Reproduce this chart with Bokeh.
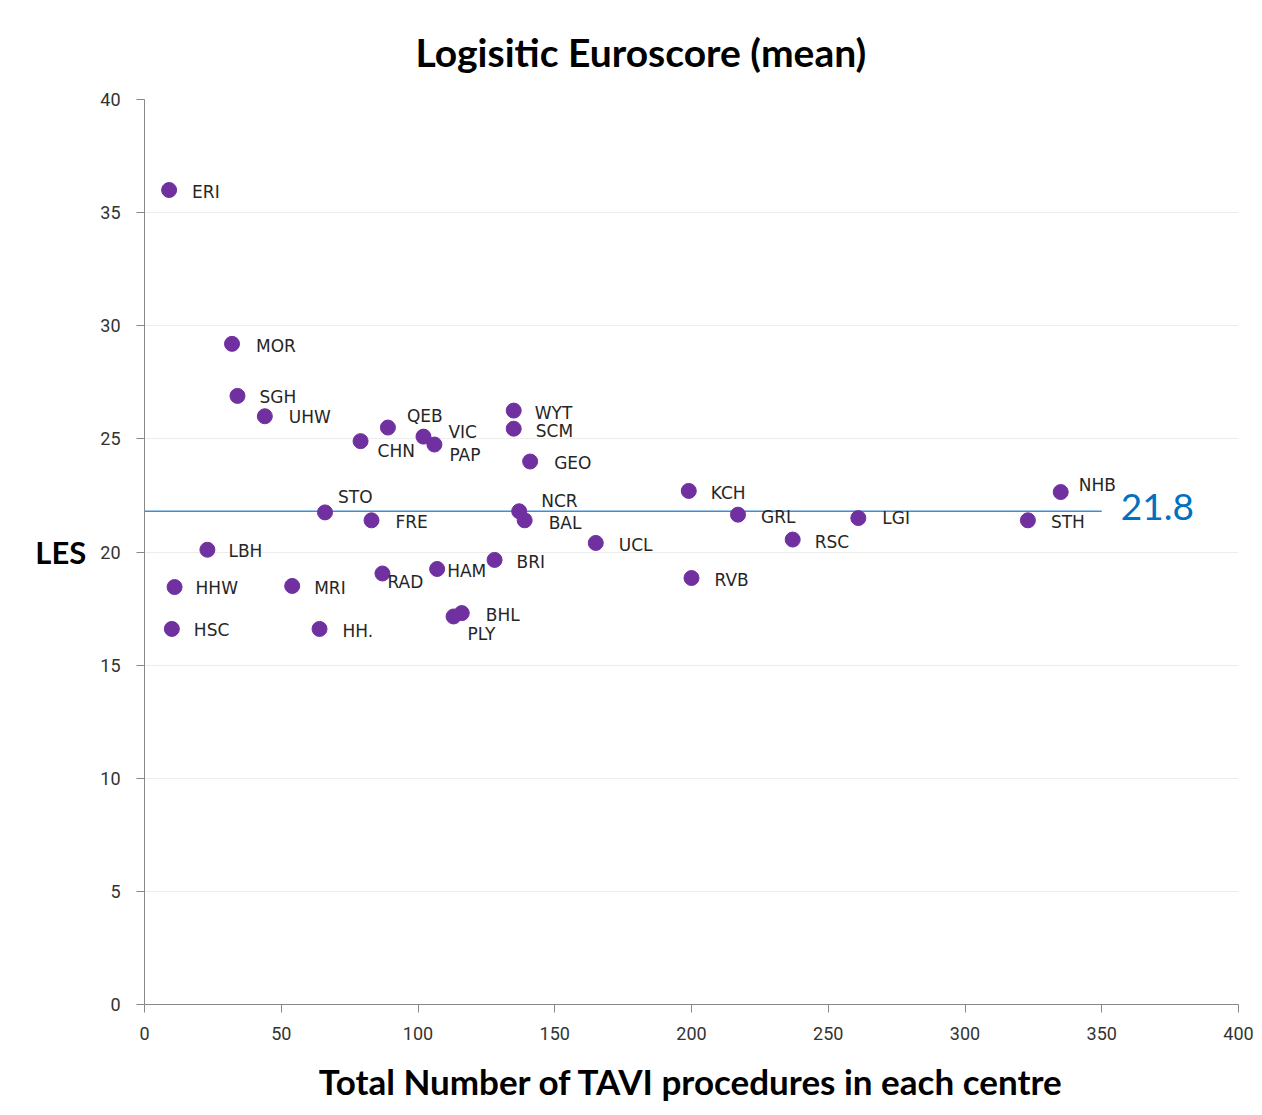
from bokeh.plotting import figure
from bokeh.models import ColumnDataSource, Range1d, FixedTicker, Title
from bokeh.core.properties import value
from bokeh.embed import file_html
from bokeh.resources import INLINE

# ---- data ----
title_text = "Logisitic Euroscore (mean)"
centres = ["ERI", "MOR", "SGH", "UHW", "CHN", "QEB", "VIC", "PAP", "WYT", "SCM", "GEO",
           "STO", "FRE", "NCR", "BAL", "UCL", "KCH", "GRL", "LGI", "RSC", "NHB", "STH",
           "RVB", "BRI", "HAM", "RAD", "BHL", "PLY", "LBH", "HHW", "MRI", "HSC", "HH."]
procedures = [9, 32, 34, 44, 79, 89, 102, 106, 135, 135, 141,
              66, 83, 137, 139, 165, 199, 217, 261, 237, 335, 323,
              200, 128, 107, 87, 116, 113, 23, 11, 54, 10, 64]
les = [36.0, 29.2, 26.9, 26.0, 24.9, 25.5, 25.1, 24.75, 26.25, 25.45, 24.0,
       21.75, 21.4, 21.8, 21.4, 20.4, 22.7, 21.65, 21.5, 20.55, 22.65, 21.4,
       18.85, 19.65, 19.25, 19.05, 17.3, 17.15, 20.1, 18.45, 18.5, 16.6, 16.6]
mean_les = 21.8
mean_line_x = [0, 350]
x_ticks = [0, 50, 100, 150, 200, 250, 300, 350, 400]
y_ticks = [0, 5, 10, 15, 20, 25, 30, 35, 40]

# label placement (pixel offsets from each point)
label_dx = [23, 24, 22, 24, 17, 19, 25, 15, 21, 22, 24,
            13, 24, 22, 24, 23, 22, 23, 24, 22, 18, 23,
            23, 22, 10, 5, 24, 14, 21, 21, 22, 22, 23]
label_dy = [2, 2, 1, 1, 10, -12, -5, 10, 2, 2, 1,
            -15, 2, -10, 3, 2, 2, 2, 0, 2, -7, 2,
            2, 2, 2, 9, 2, 18, 1, 1, 2, 1, 2]

src = ColumnDataSource(dict(x=procedures, y=les, name=centres, dx=label_dx, dy=label_dy))

p = figure(width=1254, height=1108, output_backend="svg", toolbar_location=None,
           x_range=Range1d(0, 400), y_range=Range1d(0, 40),
           min_border_left=144, min_border_top=99, min_border_bottom=104, min_border_right=16)
p.outline_line_color = None
p.background_fill_color = "white"
p.border_fill_color = "white"

p.title = Title(text=title_text, align="left", offset=271, vertical_align="top",
                text_font="Lato", text_font_size="39px", text_font_style="bold",
                text_color="black", text_line_height=0.7, standoff=46)

# grid
p.xgrid.grid_line_color = None
p.ygrid.grid_line_color = "#ececec"
p.ygrid.grid_line_width = 1
p.ygrid.ticker = FixedTicker(ticks=y_ticks)

# axes
for ax in (p.xaxis[0], p.yaxis[0]):
    ax.axis_line_color = "#888888"
    ax.major_tick_line_color = "#888888"
    ax.major_tick_out = 8
    ax.major_tick_in = 0
    ax.minor_tick_line_color = None
    ax.major_label_text_font = "Roboto"
    ax.major_label_text_font_size = "18px"
    ax.major_label_text_color = "#333333"
    ax.axis_label_text_font = "Lato"
    ax.axis_label_text_font_style = "bold"
    ax.axis_label_text_color = "black"

p.xaxis.ticker = FixedTicker(ticks=x_ticks)
p.yaxis.ticker = FixedTicker(ticks=y_ticks)
p.xaxis.axis_label = "Total Number of TAVI procedures in each centre"
p.xaxis.axis_label_text_font_size = "35px"
p.xaxis.major_label_standoff = 14
p.xaxis.axis_label_standoff = 17
p.yaxis.axis_label = "LES"
p.yaxis.axis_label_text_font_size = "31px"
p.yaxis.axis_label_orientation = "horizontal"
p.yaxis.major_label_standoff = 16
p.yaxis.axis_label_standoff = 11

# mean line
p.line(x=mean_line_x, y=[mean_les, mean_les], line_color="#3a8fd6", line_width=1.6)
p.text(x=[mean_line_x[1]], y=[mean_les], text=[f"{mean_les}"], x_offset=19, y_offset=-4,
       text_font=value("Lato"), text_font_size="37px", text_color="#0070C0",
       text_baseline="middle", text_align="left")

# points
p.scatter("x", "y", source=src, size=15, fill_color="#7030A0", line_color="#7030A0")
p.text("x", "y", text="name", source=src, x_offset="dx", y_offset="dy",
       text_font=value("DejaVu Sans"), text_font_size="17px", text_color="#262626",
       text_baseline="middle", text_align="left")

open("out.html", "w").write(file_html(p, INLINE))
